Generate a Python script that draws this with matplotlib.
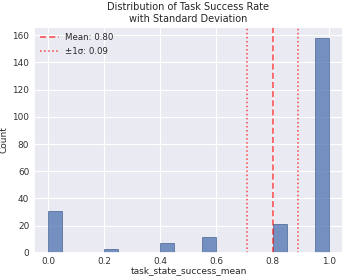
import matplotlib
matplotlib.use("Agg")
import matplotlib.pyplot as plt
import seaborn as sns
import numpy as np

sns.set_theme(style="darkgrid")
plt.rcParams['font.family'] = ['DejaVu Sans']

bin_edges = np.linspace(0, 1, 21)
counts = [31, 0, 0, 0, 3, 0, 0, 0, 7, 0, 0, 12, 0, 0, 0, 0, 21, 0, 0, 158]
mean_val = 0.80
std_val = 0.09

fig = plt.figure(figsize=(3.47, 2.80), dpi=100)
ax = fig.add_axes([0.098, 0.097, 0.89, 0.806])

ax.bar(bin_edges[:-1], counts, width=np.diff(bin_edges), align='edge',
       color='#4c72b0', alpha=0.75, edgecolor='#3b5a8a', linewidth=0.6)
ax.axvline(mean_val, color='red', linestyle='--', linewidth=1.1, alpha=0.7,
           dashes=(4, 2), label=f'Mean: {mean_val:.2f}')
ax.axvline(mean_val - std_val, color='red', linestyle=':', linewidth=1.1, alpha=0.7,
           label=f'±1σ: {std_val:.2f}')
ax.axvline(mean_val + std_val, color='red', linestyle=':', linewidth=1.1, alpha=0.7)

ax.set_xlim(-0.05, 1.05)
ax.set_ylim(0, 165.9)
ax.set_xticks([0.0, 0.2, 0.4, 0.6, 0.8, 1.0])
ax.set_yticks([0, 20, 40, 60, 80, 100, 120, 140, 160])
ax.grid(linewidth=0.8)
ax.tick_params(axis='x', labelsize=6.4, pad=3, length=0, colors='#333333')
ax.tick_params(axis='y', labelsize=6.4, pad=3.5, length=0, colors='#333333')
ax.set_xlabel('task_state_success_mean', fontsize=6.5, labelpad=0.3)
ax.set_ylabel('Count', fontsize=6.5, labelpad=3)
ax.set_title('Distribution of Task Success Rate\nwith Standard Deviation', fontsize=7, pad=4, linespacing=1.15)
leg = ax.legend(loc='upper left', fontsize=6.2, frameon=False, handlelength=2.2,
                handletextpad=0.7, borderaxespad=0.3, labelspacing=0.6)

fig.savefig('out.png', dpi=100)
